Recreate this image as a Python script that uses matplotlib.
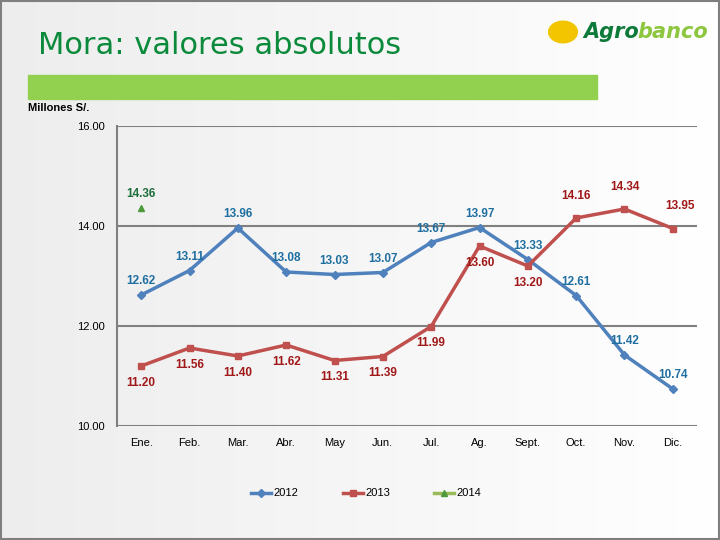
import numpy as np
import matplotlib.pyplot as plt
from matplotlib.patches import Rectangle

meses = ['Ene.', 'Feb.', 'Mar.', 'Abr.', 'May', 'Jun.', 'Jul.', 'Ag.', 'Sept.', 'Oct.', 'Nov.', 'Dic.']
mora_2012 = [12.62, 13.11, 13.96, 13.08, 13.03, 13.07, 13.67, 13.97, 13.33, 12.61, 11.42, 10.74]
mora_2013 = [11.20, 11.56, 11.40, 11.62, 11.31, 11.39, 11.99, 13.60, 13.20, 14.16, 14.34, 13.95]
mora_2014 = [14.36]
yticks = [10, 12, 14, 16]

x = np.arange(len(meses))

fig = plt.figure(figsize=(7.2, 5.4), dpi=100)

# fondo de la diapositiva
bg = fig.add_axes([0, 0, 1, 1], zorder=-10)
grad = np.linspace(0.93, 1.0, 256).reshape(1, -1)
grad = np.vstack([grad, grad])
bg.imshow(np.dstack([grad, grad, grad]), aspect='auto', extent=[0, 1, 0, 1])
bg.set_xlim(0, 1)
bg.set_ylim(0, 1)
bg.axis('off')
bg.add_patch(Rectangle((0.002, 0.002), 0.996, 0.996, fill=False, edgecolor='#7f7f7f', linewidth=1.5))
bg.add_patch(Rectangle((28 / 720, 1 - 99 / 540), 569 / 720, 24 / 540, color='#92D050'))
fig.text(38 / 720, 1 - 45 / 540, 'Mora: valores absolutos', fontsize=22, color='#0A8A3A',
         family='DejaVu Sans', va='center')
fig.text(583 / 720, 1 - 32 / 540, 'Agro', fontsize=15, color='#0E7A3A', weight='bold',
         style='italic', va='center')
fig.text(637 / 720, 1 - 32 / 540, 'banco', fontsize=15, color='#8DC63F', weight='bold',
         style='italic', va='center')
bg.add_patch(plt.Circle((563 / 720, 1 - 32 / 540), 0.02, color='#F2C500', transform=bg.transAxes))
fig.text(28 / 720, 1 - 108 / 540, 'Millones S/.', fontsize=8, weight='bold', va='center',
         family='Liberation Sans')

ax = fig.add_axes([117 / 720, 1 - 426 / 540, 580 / 720, 300 / 540])
ax.set_facecolor('none')

ax.plot(x, mora_2012, color='#4F81BD', marker='D', markersize=4.5, linewidth=2.5, label='2012')
ax.plot(x, mora_2013, color='#C0504D', marker='s', markersize=5, linewidth=2.5, label='2013')
ax.plot(x[:len(mora_2014)], mora_2014, color='#9BBB59', marker='^', markersize=5,
        markerfacecolor='#4E9A3A', markeredgecolor='#4E9A3A', linewidth=2.5, label='2014')

for i, v in enumerate(mora_2012):
    ax.annotate(f'{v:.2f}', (x[i], v), xytext=(0, 10), textcoords='offset points',
                ha='center', va='center', fontsize=8.5, weight='bold', color='#1F6FA0',
                family='Liberation Sans')
for i, v in enumerate(mora_2013):
    if i < 9:
        off = (0, -12)
    elif i < 11:
        off = (0, 16)
    else:
        off = (5, 16)
    ax.annotate(f'{v:.2f}', (x[i], v), xytext=off, textcoords='offset points',
                ha='center', va='center', fontsize=8.5, weight='bold', color='#A01818',
                family='Liberation Sans')
for i, v in enumerate(mora_2014):
    ax.annotate(f'{v:.2f}', (x[i], v), xytext=(0, 10), textcoords='offset points',
                ha='center', va='center', fontsize=8.5, weight='bold', color='#1E6E3C',
                family='Liberation Sans')

ax.set_xlim(-0.5, len(meses) - 0.5)
ax.set_ylim(10, 16)
ax.set_yticks(yticks)
ax.set_yticklabels([f'{t:.2f}' for t in yticks], family='Liberation Sans', fontsize=8)
ax.set_xticks(x)
ax.set_xticklabels(meses, family='Liberation Sans', fontsize=8)
ax.tick_params(length=0, pad=9)
ax.grid(axis='y', color='#808080', linewidth=1.5)
ax.set_axisbelow(True)
for s in ['top', 'right', 'bottom']:
    ax.spines[s].set_visible(False)
ax.spines['left'].set_color('#808080')
ax.spines['left'].set_linewidth(1.5)

ax.legend(loc='center', bbox_to_anchor=(0.43, -0.225), ncol=3, frameon=False,
          prop={'family': 'Liberation Sans', 'size': 8}, handlelength=1.8, handletextpad=0.2,
          columnspacing=4.0)

plt.savefig('out.png', dpi=100)
